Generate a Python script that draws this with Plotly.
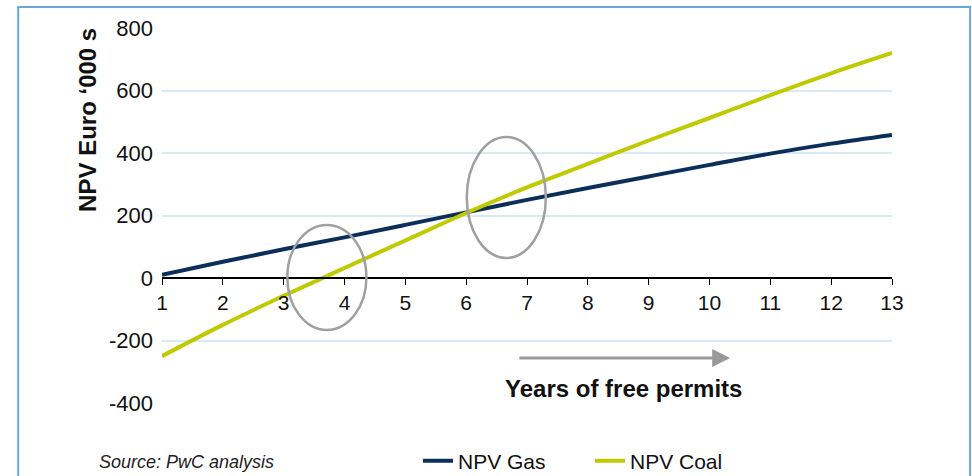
import plotly.graph_objects as go

years = [1, 2, 3, 4, 5, 6, 7, 8, 9, 10, 11, 12, 13]
npv_gas = [10, 52, 92, 130, 170, 210, 250, 288, 325, 362, 398, 430, 458]
npv_coal = [-250, -150, -57, 32, 120, 208, 290, 365, 440, 512, 585, 655, 720]
y_ticks = [-400, -200, 0, 200, 400, 600, 800]
y_tick_text = ["-400", "-200", "0", "200", "400", "600", "800"]
x_ticks = list(range(1, 14))

GAS = "#0b2f5a"
COAL = "#bfca00"
FONT = "Liberation Sans, Arial, sans-serif"

fig = go.Figure()
fig.add_trace(go.Scatter(x=years, y=npv_gas, mode="lines", name="NPV Gas",
                         line=dict(color=GAS, width=4, shape="spline")))
fig.add_trace(go.Scatter(x=years, y=npv_coal, mode="lines", name="NPV Coal",
                         line=dict(color=COAL, width=4, shape="spline")))

fig.update_layout(
    width=972, height=476,
    margin=dict(l=162, r=80, t=28, b=73, autoexpand=False),
    paper_bgcolor="white", plot_bgcolor="white",
    font=dict(family=FONT, size=21, color="#111"),
    showlegend=True,
    legend=dict(orientation="h", x=(418 - 162) / 730, y=(403 - 461) / 375,
                xanchor="left", yanchor="middle", entrywidth=127,
                font=dict(size=21), tracegroupgap=0,
                bgcolor="rgba(0,0,0,0)"),
    xaxis=dict(range=[1, 13], tickvals=x_ticks, anchor="free", position=1/3,
               showline=True, linecolor="black", linewidth=1.5,
               ticks="outside", ticklen=6, tickcolor="black", showgrid=False,
               zeroline=False, tickfont=dict(size=21)),
    yaxis=dict(range=[-400, 800], tickvals=y_ticks, ticktext=y_tick_text, showgrid=True,
               gridcolor="#d9eaf6", gridwidth=2, zeroline=False, ticklabelstandoff=8,
               showline=False, ticks="", tickfont=dict(size=22)),
)

shapes = [
    dict(type="rect", xref="paper", yref="paper", x0=-0.197, x1=1.107, y0=-0.25, y1=1.056,
         line=dict(color="#6aa8dc", width=2), layer="below"),
    dict(type="circle", xref="x", yref="y", x0=3.06, x1=4.36, y0=-166, y1=170,
         line=dict(color="#a0a0a0", width=2.5)),
    dict(type="circle", xref="x", yref="y", x0=6.01, x1=7.31, y0=64, y1=451,
         line=dict(color="#a0a0a0", width=2.5)),
]
fig.update_layout(shapes=shapes)

fig.add_annotation(x=10.34, y=-256, ax=6.85, ay=-256, xref="x", yref="y", axref="x", ayref="y",
                   showarrow=True, arrowhead=2, arrowsize=1.2, arrowwidth=3, arrowcolor="#999999",
                   text="")
fig.add_annotation(x=8.58, y=-352, xref="x", yref="y", text="<b>Years of free permits</b>",
                   showarrow=False, font=dict(size=24, color="#111"))
fig.add_annotation(x=(88 - 162) / 730, y=506, xref="paper", yref="y", text="<b>NPV Euro ‘000 s</b>",
                   xanchor="center", yanchor="middle",
                   textangle=-90, showarrow=False, font=dict(size=24, color="#111"))
fig.add_annotation(x=(97 - 162) / 730, y=(403 - 462) / 375, xref="paper", yref="paper",
                   xanchor="left", yanchor="middle", text="<i>Source: PwC analysis</i>",
                   showarrow=False, font=dict(size=18, color="#222"))

fig.write_html("out.html", config={"displayModeBar": False},
               post_script="document.body.style.margin='0';document.body.style.overflow='hidden';")
